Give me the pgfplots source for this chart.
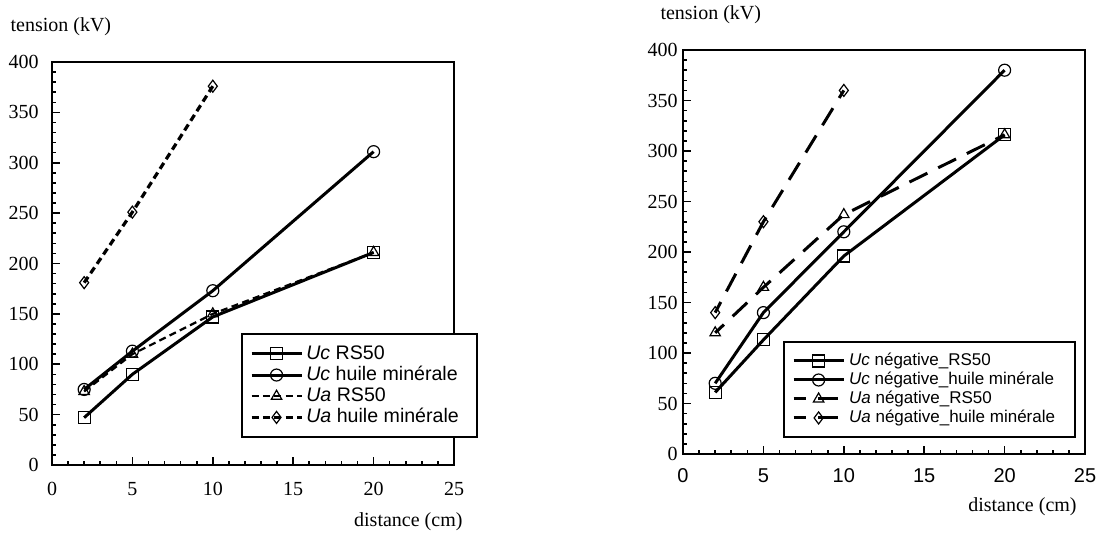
\documentclass[border=0pt]{standalone}
\usepackage{pgfplots}
\pgfplotsset{compat=1.18}
\usepackage{fontspec}
\setmainfont{Liberation Serif}
\newfontfamily\arial{Liberation Sans}
\begin{document}
\begin{tikzpicture}[x=1bp,y=1bp]
\path[use as bounding box] (0,0) rectangle (550,267.5);
\pgfplotsset{
  myaxis/.style={
    scale only axis, width=201bp,
    xmin=0,xmax=25,ymin=0,ymax=400,
    xtick={0,5,...,25}, ytick={0,50,...,400},
    minor x tick num=4, minor y tick num=4,
    tick pos=left, tick align=inside,
    major tick length=4bp, minor tick length=2bp,
    axis line style={line width=1bp},
    tick style={black, line width=0.8bp},
    /pgf/number format/assume math mode=true,
    font=\fontsize{10bp}{12bp}\selectfont,
    legend cell align=left,
    legend image code/.code={\draw[mark repeat=2,mark phase=2,##1] plot coordinates {(0bp,0bp) (12.5bp,0bp) (25bp,0bp)};},
    ylabel style={rotate=-90, anchor=west, inner sep=0pt},
    xlabel style={anchor=east, inner sep=0pt},
  },
  mk/.style={mark options={solid, fill=white, line width=0.6bp}},
}
% ---------------- left ----------------
\begin{axis}[myaxis, height=201.5bp, at={(26bp,35bp)}, anchor=south west,
  yticklabel style={inner xsep=2bp}, yticklabel shift=4.5bp,
  xticklabel style={inner ysep=2bp}, xticklabel shift=6.5bp,
  ylabel={tension (kV)}, ylabel style={at={(axis description cs:-0.104,1.087)}},
  xlabel={distance (cm)}, xlabel style={at={(axis description cs:1.022,-0.141)}},
  legend style={at={(0.470,0.327)}, anchor=north west, draw=black, line width=1bp,
    font=\arial\fontsize{9.8bp}{10bp}\selectfont, row sep=0bp, column sep=0bp,
    inner xsep=4bp, inner ysep=4.5bp,
    nodes={inner xsep=1.6bp, inner ysep=0bp, text height=7.9bp, text depth=2.7bp}},
]
\addplot[black, line width=1.5bp, mk, mark=square, mark size=3bp] coordinates {(2,47) (5,90) (10,147) (20,211)};
\addlegendentry{\textit{Uc} RS50}
\addplot[black, line width=1.5bp, mk, mark=o, mark size=3bp] coordinates {(2,75) (5,113) (10,173) (20,311)};
\addlegendentry{\textit{Uc} huile minérale\hspace*{3.5bp}}
\addplot[black, line width=1.1bp, dash pattern=on 3.5bp off 2.2bp, mk, mark=triangle, mark size=3bp] coordinates {(2,73) (5,110) (10,150) (20,211)};
\addlegendentry{\textit{Ua} RS50}
\addplot[black, line width=1.6bp, dash pattern=on 3.5bp off 2.2bp, mk, mark=diamond, mark size=3bp] coordinates {(2,181) (5,251) (10,376)};
\addlegendentry{\textit{Ua} huile minérale\hspace*{3.5bp}}
\end{axis}
% ---------------- right ----------------
\begin{axis}[myaxis, height=202bp, at={(341.5bp,40.5bp)}, anchor=south west,
  yticklabel style={inner xsep=1bp}, yticklabel shift=1.5bp,
  xticklabel style={font=\arial\fontsize{10bp}{12bp}\selectfont, inner ysep=2bp}, xticklabel shift=5bp,
  ylabel={tension (kV)}, ylabel style={at={(axis description cs:-0.057,1.088)}},
  xlabel={distance (cm)}, xlabel style={at={(axis description cs:0.98,-0.131)}},
  legend style={at={(0.249,0.280)}, anchor=north west, draw=black, line width=1bp,
    font=\arial\fontsize{8.5bp}{9bp}\selectfont, row sep=0bp, column sep=0bp,
    inner xsep=4bp, inner ysep=4.8bp,
    nodes={inner xsep=2bp, inner ysep=0bp, text height=7bp, text depth=2.5bp}},
]
\addplot[black, line width=1.5bp, mk, mark=square, mark size=3bp] coordinates {(2,61) (5,113) (10,196) (20,316)};
\addlegendentry{\textit{Uc} négative\_RS50}
\addplot[black, line width=1.5bp, mk, mark=o, mark size=3bp] coordinates {(2,70) (5,140) (10,220) (20,380)};
\addlegendentry{\textit{Uc} négative\_huile minérale\hspace*{4bp}}
\addplot[black, line width=1.5bp, dash pattern=on 10bp off 6bp, dash phase=4bp, mk, mark=triangle, mark size=3bp] coordinates {(2,120) (5,165) (10,237) (20,316)};
\addlegendentry{\textit{Ua} négative\_RS50}
\addplot[black, line width=1.5bp, dash pattern=on 10bp off 6bp, dash phase=4bp, mk, mark=diamond, mark size=3bp] coordinates {(2,140) (5,230) (10,360)};
\addlegendentry{\textit{Ua} négative\_huile minérale\hspace*{4bp}}
\end{axis}
\end{tikzpicture}
\end{document}
